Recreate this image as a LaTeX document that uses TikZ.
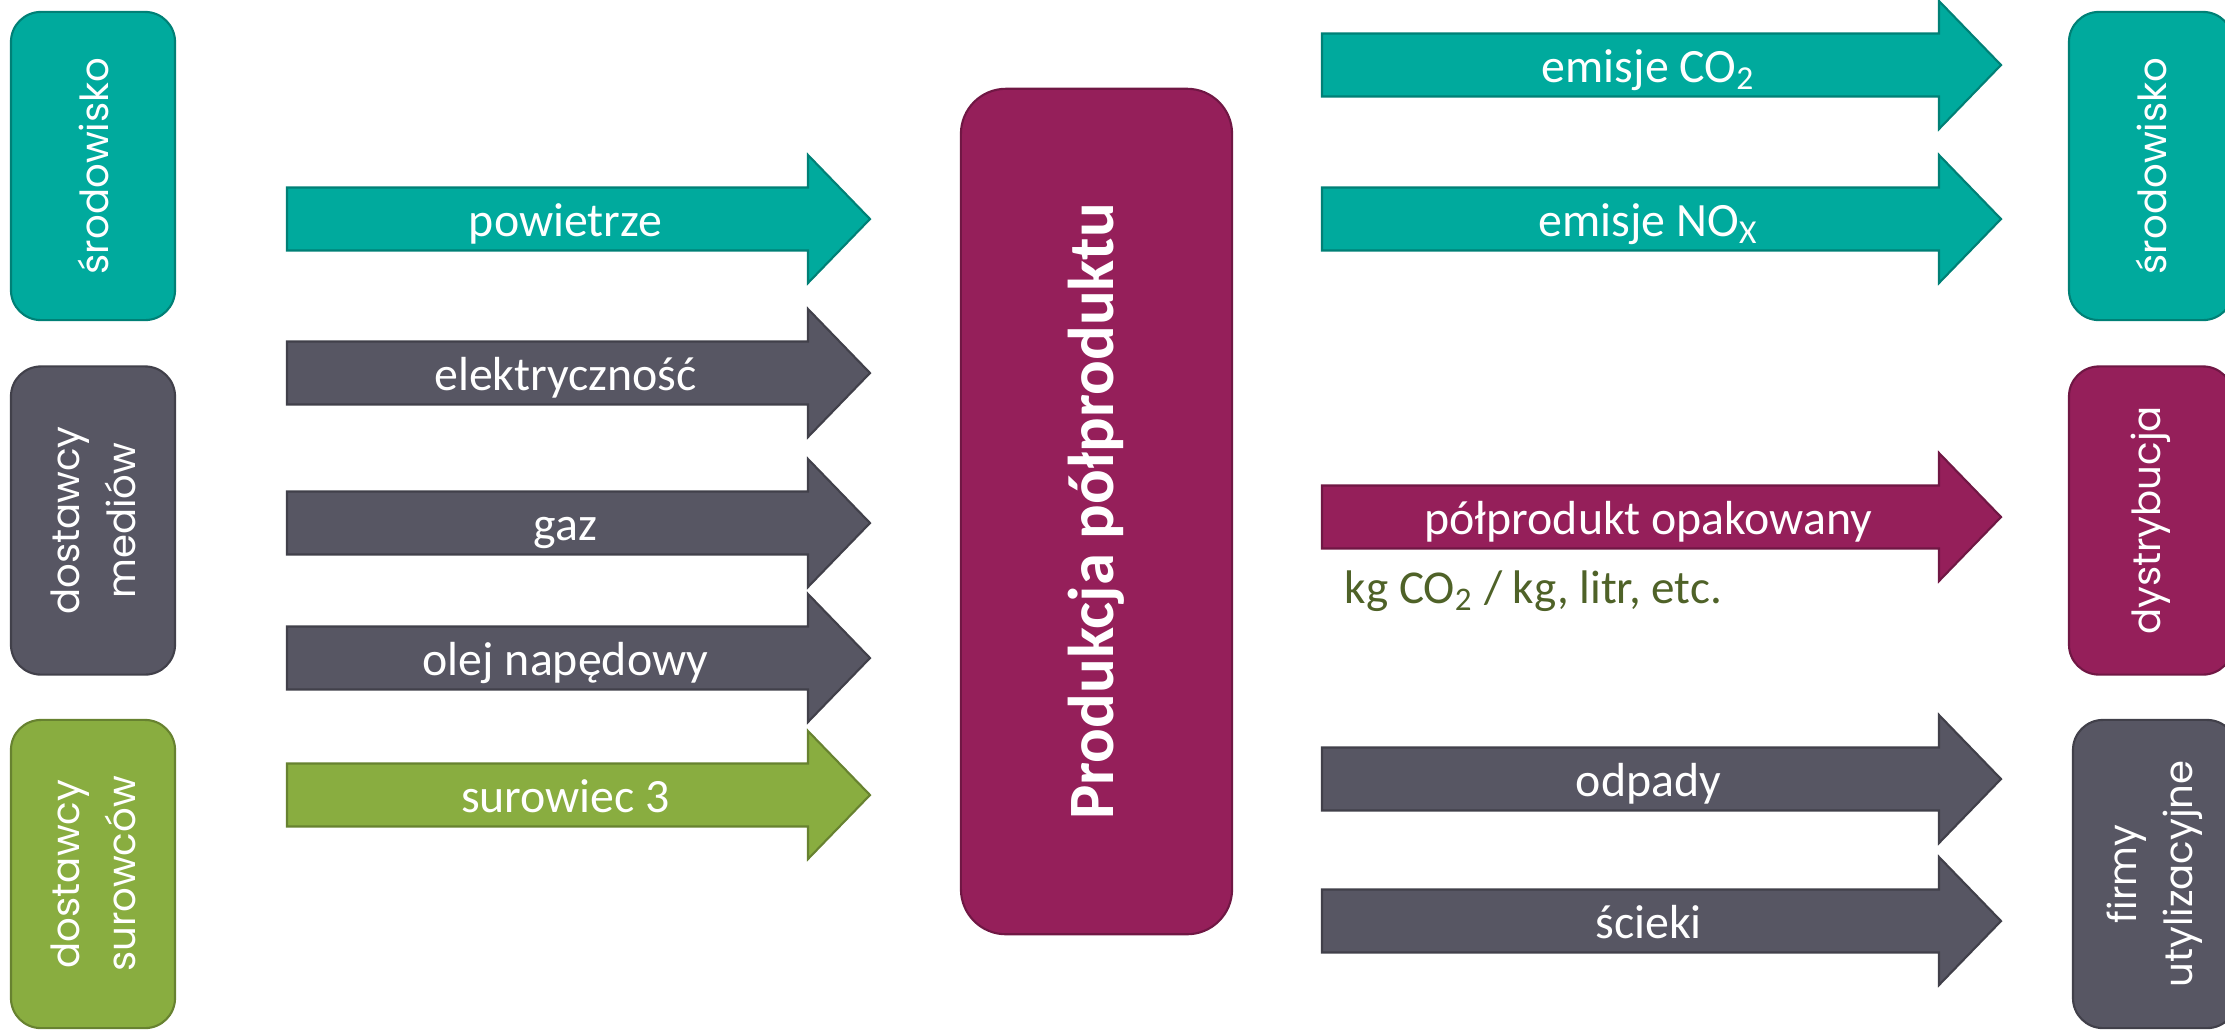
\documentclass[tikz,border=0pt]{standalone}
\usepackage{fontspec}
\setmainfont{Carlito}
\newfontfamily\boxfont{Poppins}
\definecolor{morski}{RGB}{0,170,157}
\definecolor{grafit}{RGB}{87,86,99}
\definecolor{sliwka}{RGB}{149,31,90}
\definecolor{oliwka}{RGB}{137,173,64}
\definecolor{ciemnaoliwka}{RGB}{79,98,40}
% block arrow: name, colour, x start, x tip, y centre, label
\newcommand{\flowarrow}[6]{%
  \draw[arrowbody=#2] (#3,#5-31.5) -- (#4-62,#5-31.5) -- (#4-62,#5-64) -- (#4,#5)
    -- (#4-62,#5+64) -- (#4-62,#5+31.5) -- (#3,#5+31.5) -- cycle;
  \node[flowlabel] (#1) at ({(#3+#4)/2-13},#5+17) {#6};
}
\begin{document}
\begin{tikzpicture}[x=0.01cm,y=-0.01cm,
    arrowbody/.style={fill=#1, draw=#1!75!black, line width=0.6pt},
    flowlabel/.style={anchor=base, inner sep=0pt, text=white, font=\fontsize{13.6}{16}\selectfont},
    sidebox/.style={shape=rectangle, rotate=90, rounded corners=0.3cm, fill=#1, draw=#1!75!black,
      line width=0.6pt, minimum width=3.08cm, minimum height=1.64cm, text=white, align=center,
      font=\boxfont\fontsize{11}{16}\selectfont},
    mainbox/.style={shape=rectangle, rotate=90, rounded corners=0.45cm, fill=sliwka, draw=sliwka!75!black,
      line width=0.6pt, minimum width=8.45cm, minimum height=2.71cm, text=white,
      font=\bfseries\fontsize{18.4}{22}\selectfont}]
  \useasboundingbox (0,0) rectangle (2225,1032);
  % suppliers
  \node[sidebox=morski] (srodL) at (93,166) {środowisko};
  \node[sidebox=grafit] (media) at (93,520.5) {dostawcy\\mediów};
  \node[sidebox=oliwka] (surowce) at (93,874) {dostawcy\\surowców};
  % process
  \node[mainbox] (prod) at (1096.5,511.5) {Produkcja półproduktu};
  % receivers
  \node[sidebox=morski] (srodP) at (2151,166) {środowisko};
  \node[sidebox=sliwka] (dystr) at (2151,520.5) {dystrybucja};
  \node[sidebox=grafit] (firmy) at (2155,874) {firmy\\utylizacyjne};
  % inputs
  \flowarrow{powietrze}{morski}{287}{870}{219}{powietrze}
  \flowarrow{prad}{grafit}{287}{870}{373}{elektryczność}
  \flowarrow{gaz}{grafit}{287}{870}{523}{gaz}
  \flowarrow{olej}{grafit}{287}{870}{658}{olej napędowy}
  \flowarrow{surowiec}{oliwka}{287}{870}{795}{surowiec 3}
  % outputs
  \flowarrow{co2}{morski}{1322}{2001}{65}{emisje CO\textsubscript{2}}
  \flowarrow{nox}{morski}{1322}{2001}{219}{emisje NO\textsubscript{X}}
  \flowarrow{polprodukt}{sliwka}{1322}{2001}{517}{półprodukt opakowany}
  \flowarrow{odpady}{grafit}{1322}{2001}{779}{odpady}
  \flowarrow{scieki}{grafit}{1322}{2001}{921}{ścieki}
  \node[anchor=base west, inner sep=0pt, text=ciemnaoliwka, font=\fontsize{13.4}{16}\selectfont]
    (jednostka) at (1344,603) {kg CO\textsubscript{2} / kg, litr, etc.};
\end{tikzpicture}
\end{document}
